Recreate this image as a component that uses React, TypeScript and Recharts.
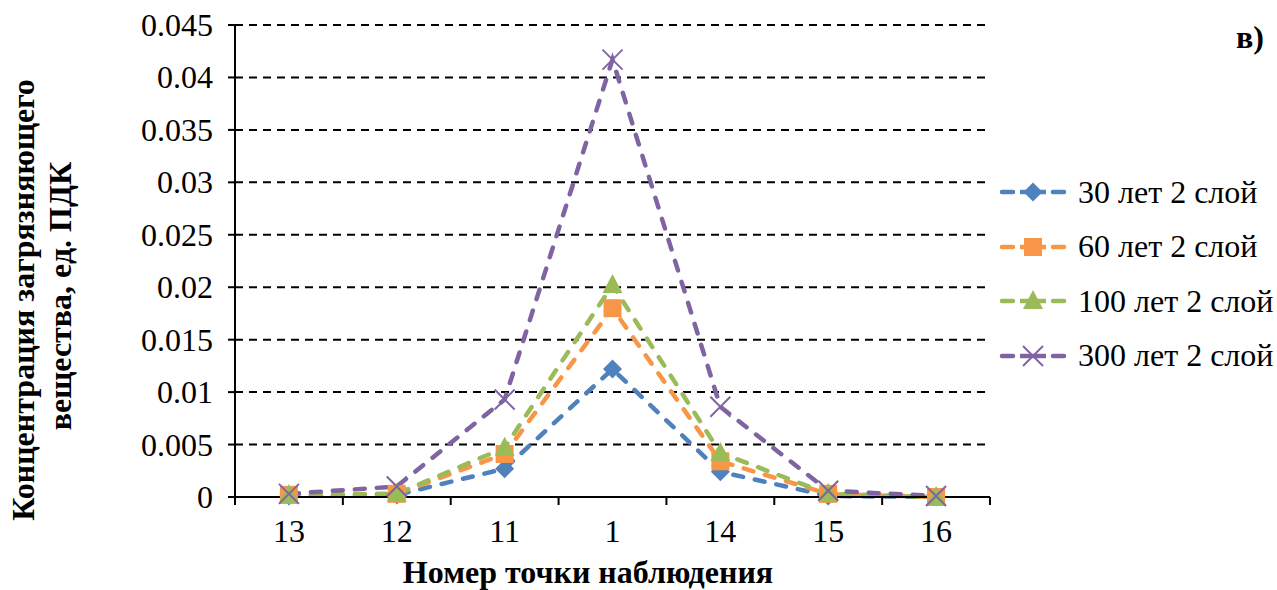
import React from "react";
import { LineChart, Line, XAxis, YAxis, CartesianGrid } from "recharts";

const points = ["13", "12", "11", "1", "14", "15", "16"];
const years30 = [0.0001, 0.0002, 0.0027, 0.0122, 0.0024, 0.0001, 0.0];
const years60 = [0.0002, 0.0003, 0.0041, 0.018, 0.0034, 0.0003, 0.0];
const years100 = [0.0002, 0.0003, 0.0047, 0.0202, 0.0042, 0.0003, 0.0];
const years300 = [0.0003, 0.001, 0.0093, 0.0417, 0.0086, 0.0006, 0.0001];
const yTicks = [0, 0.005, 0.01, 0.015, 0.02, 0.025, 0.03, 0.035, 0.04, 0.045];

const data = points.map((p, i) => ({
  name: p,
  s30: years30[i],
  s60: years60[i],
  s100: years100[i],
  s300: years300[i],
}));

const W = 1277;
const H = 590;
const X_AXIS_H = 60;
const Y_AXIS_W = 235;
const M = { top: 25, right: 287, bottom: 93 - X_AXIS_H, left: 0 };
const BAND = (W - M.left - M.right - Y_AXIS_W) / points.length;
const FONT = "Liberation Serif, Times New Roman, DejaVu Serif, serif";
const FS = 32;
const txt = { fontFamily: FONT };

const series = [
  { key: "s30", name: "30 лет 2 слой", color: "#4F81BD", shape: "diamond" },
  { key: "s60", name: "60 лет 2 слой", color: "#F79646", shape: "square" },
  { key: "s100", name: "100 лет 2 слой", color: "#9BBB59", shape: "triangle" },
  { key: "s300", name: "300 лет 2 слой", color: "#8064A2", shape: "cross" },
];

const Marker = ({ cx, cy, shape, color }: { cx: number; cy: number; shape: string; color: string }) => {
  if (cx == null || cy == null) return null;
  if (shape === "diamond")
    return <path d={`M${cx},${cy - 9.5} L${cx + 9.5},${cy} L${cx},${cy + 9.5} L${cx - 9.5},${cy} Z`} fill={color} />;
  if (shape === "square") return <rect x={cx - 9} y={cy - 9} width={18} height={18} fill={color} />;
  if (shape === "triangle")
    return <path d={`M${cx},${cy - 11} L${cx + 10},${cy + 8} L${cx - 10},${cy + 8} Z`} fill={color} />;
  return (
    <g stroke={color} strokeWidth={2}>
      <line x1={cx - 10} y1={cy - 10} x2={cx + 10} y2={cy + 10} />
      <line x1={cx - 10} y1={cy + 10} x2={cx + 10} y2={cy - 10} />
    </g>
  );
};

// tick y arrives below the axis line (tickSize + tickMargin), so offsets are relative to that
const XTick = (props: any) => {
  const { x, y, payload, index } = props;
  const last = index === points.length - 1;
  return (
    <g>
      <line x1={x - BAND / 2} y1={y - 8} x2={x - BAND / 2} y2={y} stroke="#000" strokeWidth={2} />
      {last && <line x1={x + BAND / 2} y1={y - 8} x2={x + BAND / 2} y2={y} stroke="#000" strokeWidth={2} />}
      <text x={x} y={y + 37} textAnchor="middle" fontSize={FS} style={txt} fill="#000">
        {payload.value}
      </text>
    </g>
  );
};

const YTick = (props: any) => {
  const { x, y, payload } = props;
  return (
    <text x={x - 13} y={y + 11} textAnchor="end" fontSize={FS} style={txt} fill="#000">
      {payload.value}
    </text>
  );
};

const ChartLegend = () => (
  <div style={{ position: "absolute", left: 998, top: 165, fontFamily: FONT, fontSize: FS, color: "#000" }}>
    {series.map((s) => (
      <div key={s.key} style={{ display: "flex", alignItems: "center", height: 54.5 }}>
        <svg width={72} height={24} style={{ marginRight: 8 }}>
          <line x1={4} y1={12} x2={15} y2={12} stroke={s.color} strokeWidth={4.5} strokeLinecap="round" />
          <line x1={55} y1={12} x2={66} y2={12} stroke={s.color} strokeWidth={4.5} strokeLinecap="round" />
          <line x1={22} y1={12} x2={48} y2={12} stroke={s.color} strokeWidth={4.5} />
          <Marker cx={35} cy={12} shape={s.shape} color={s.color} />
        </svg>
        <span style={{ whiteSpace: "nowrap" }}>{s.name}</span>
      </div>
    ))}
  </div>
);

export default function App() {
  return (
    <div style={{ position: "absolute", left: 0, top: 0, width: W, height: H, background: "#fff", fontFamily: FONT }}>
      <LineChart width={W} height={H} data={data} margin={M}>
        <CartesianGrid vertical={false} stroke="#000" strokeWidth={2} strokeDasharray="8 6" horizontalValues={yTicks} />
        <XAxis
          dataKey="name"
          tick={<XTick />}
          tickLine={false}
          axisLine={{ stroke: "#000", strokeWidth: 2 }}
          interval={0}
          height={X_AXIS_H}
          padding={{ left: BAND / 2, right: BAND / 2 }}
        />
        <YAxis
          domain={[0, 0.045]}
          ticks={yTicks}
          width={Y_AXIS_W}
          tick={<YTick />}
          tickSize={7}
          tickLine={{ stroke: "#000", strokeWidth: 2 }}
          axisLine={{ stroke: "#000", strokeWidth: 2 }}
          interval={0}
        />
        {series.map((s) => (
          <Line
            key={s.key}
            dataKey={s.key}
            name={s.name}
            stroke={s.color}
            strokeWidth={4.5}
            strokeDasharray="10 12"
            strokeLinecap="round"
            type="linear"
            isAnimationActive={false}
            dot={(p: any) => <Marker key={p.index} cx={p.cx} cy={p.cy} shape={s.shape} color={s.color} />}
            activeDot={false}
          />
        ))}
        <text transform="translate(34,300) rotate(-90)" textAnchor="middle" fontSize={FS} fontWeight="bold" style={txt} fill="#000">
          Концентрация загрязняющего
        </text>
        <text transform="translate(71,296) rotate(-90)" textAnchor="middle" fontSize={FS} fontWeight="bold" style={txt} fill="#000">
          вещества, ед. ПДК
        </text>
        <text x={588} y={583} textAnchor="middle" fontSize={FS} fontWeight="bold" style={txt} fill="#000">
          Номер точки наблюдения
        </text>
        <text x={1236} y={48} fontSize={FS} fontWeight="bold" style={txt} fill="#000">
          в)
        </text>
      </LineChart>
      <ChartLegend />
    </div>
  );
}
